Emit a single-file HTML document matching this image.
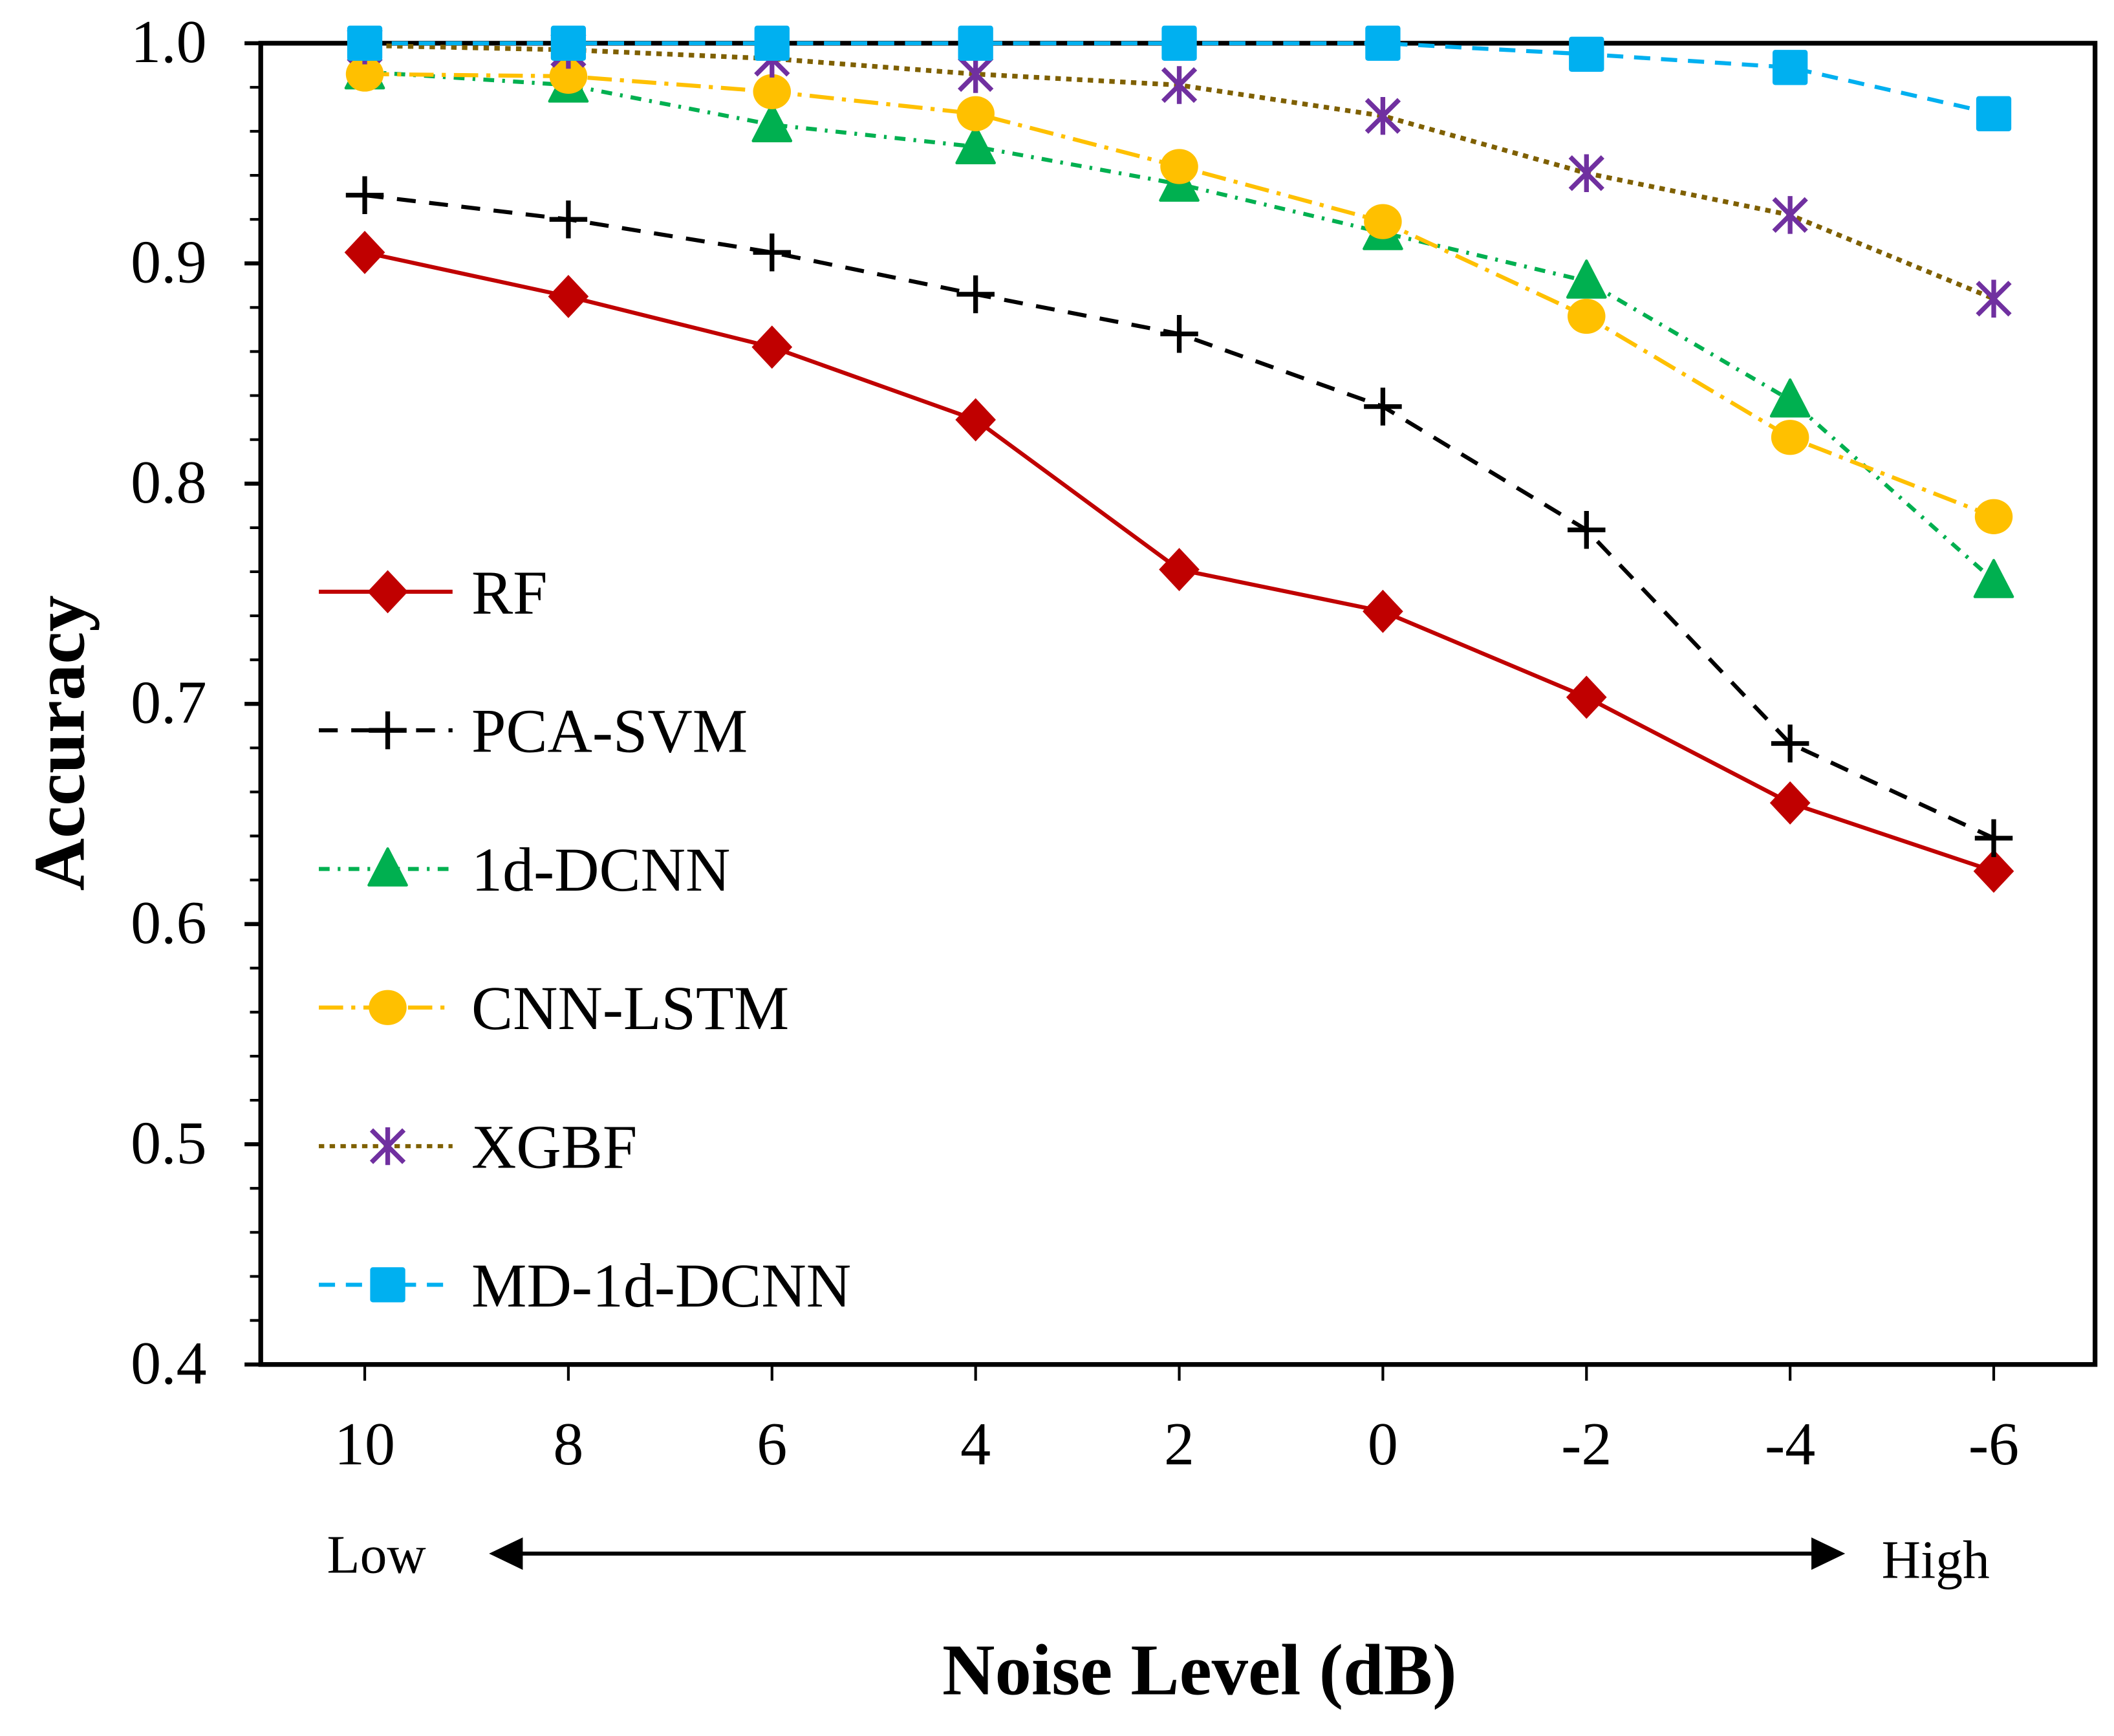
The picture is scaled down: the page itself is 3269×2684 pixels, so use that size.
<!DOCTYPE html>
<html><head><meta charset="utf-8"><style>html,body{margin:0;padding:0;background:#fff}svg{display:block}text{font-family:"Liberation Serif",serif}</style></head>
<body>
<svg id="chart" width="3269" height="2684" viewBox="0 0 1565 1285" xmlns="http://www.w3.org/2000/svg">
<rect x="0" y="0" width="1565" height="1285" fill="#fff"/>
<g id="plot"></g>
</svg>
<script>
const categories = ["10","8","6","4","2","0","-2","-4","-6"];
const yTicks = [0.4,0.5,0.6,0.7,0.8,0.9,1.0];
const yTickLabels = ["0.4","0.5","0.6","0.7","0.8","0.9","1.0"];
const seriesNames = ["RF","PCA-SVM","1d-DCNN","CNN-LSTM","XGBF","MD-1d-DCNN"];
const rfValues = [0.905,0.885,0.862,0.829,0.761,0.742,0.703,0.655,0.624];
const pcaSvmValues = [0.931,0.920,0.905,0.886,0.868,0.835,0.779,0.682,0.639];
const dcnnValues = [0.987,0.981,0.963,0.953,0.936,0.914,0.892,0.838,0.756];
const cnnLstmValues = [0.986,0.985,0.978,0.968,0.944,0.919,0.876,0.821,0.785];
const xgbfValues = [0.999,0.997,0.993,0.986,0.981,0.967,0.941,0.922,0.884];
const mdDcnnValues = [1.0,1.0,1.0,1.0,1.0,1.0,0.995,0.989,0.968];

const NS="http://www.w3.org/2000/svg";
const g=document.getElementById('plot');
const L=193,R=1551,T=32,B=1010;
const yMin=0.4,yMax=1.0;
function yScale(v){return B-(v-yMin)/(yMax-yMin)*(B-T);}
function xScale(i){return 270+i*(1476-270)/(categories.length-1);}
function el(tag,attrs,parent){const e=document.createElementNS(NS,tag);for(const k in attrs)e.setAttribute(k,attrs[k]);(parent||g).appendChild(e);return e;}

const styles=[
 {color:"#C00000",dash:"",marker:"diamond",mc:"#C00000",name:"rf"},
 {color:"#000000",dash:"14 10",marker:"plus",mc:"#000000",name:"pca-svm"},
 {color:"#00B050",dash:"8 6 2 6",marker:"triangle",mc:"#00B050",name:"1d-dcnn"},
 {color:"#FFC000",dash:"18 6 3 6",marker:"circle",mc:"#FFC000",name:"cnn-lstm"},
 {color:"#7F6000",dash:"4 4",marker:"star",mc:"#7030A0",name:"xgbf"},
 {color:"#00B0F0",dash:"12 8",marker:"square",mc:"#00B0F0",name:"md-1d-dcnn"}
];
const allValues=[rfValues,pcaSvmValues,dcnnValues,cnnLstmValues,xgbfValues,mdDcnnValues];

function marker(type,x,y,c,parent){
  let m;
  if(type==="diamond") m=el('polygon',{points:`${x},${y-16} ${x+15},${y} ${x},${y+16} ${x-15},${y}`,fill:c},parent);
  else if(type==="plus"){m=el('path',{d:`M${x-14},${y}H${x+14}M${x},${y-14}V${y+14}`,stroke:c,'stroke-width':3.5,fill:'none'},parent);}
  else if(type==="triangle") m=el('polygon',{points:`${x},${y-15} ${x+14},${y+12} ${x-14},${y+12}`,fill:c,'stroke':c,'stroke-width':2,'stroke-linejoin':'round'},parent);
  else if(type==="circle") m=el('ellipse',{cx:x,cy:y,rx:14,ry:13,fill:c},parent);
  else if(type==="star") m=el('path',{d:`M${x-12},${y-12}L${x+12},${y+12}M${x+12},${y-12}L${x-12},${y+12}M${x},${y-14}V${y+14}`,stroke:c,'stroke-width':3.5,fill:'none'},parent);
  else m=el('rect',{x:x-13,y:y-13,width:26,height:26,rx:2,fill:c},parent);
  return m;
}

const frame=el('rect',{x:L,y:T,width:R-L,height:B-T,fill:'none',stroke:'#000','stroke-width':3.5});


yTicks.forEach((v,i)=>{
  const y=yScale(v);
  const t=el('line',{x1:L-12,x2:L,y1:y,y2:y,stroke:'#000','stroke-width':3});
  
  
  const tx=el('text',{x:153,y:y+14,'text-anchor':'end','font-size':45});
  tx.textContent=yTickLabels[i];
  
  
});
for(let v=0.42;v<1.0;v+=0.02){
  if(Math.abs((v*10)-Math.round(v*10))<0.01) continue;
  const y=yScale(v);
  const t=el('line',{x1:L-8,x2:L,y1:y,y2:y,stroke:'#000','stroke-width':2});
  
  
}
categories.forEach((c,i)=>{
  const x=xScale(i);
  const t=el('line',{x1:x,x2:x,y1:B,y2:B+12,stroke:'#000','stroke-width':2});
  
  
  const tx=el('text',{x:x,y:1084,'text-anchor':'middle','font-size':45});
  tx.textContent=c;
  
  
});
allValues.forEach((vals,s)=>{
  const st=styles[s];
  const grp=el('g',{});
  
  
  const pts=vals.map((v,i)=>xScale(i)+','+yScale(v)).join(' ');
  const attrs={points:pts,fill:'none',stroke:st.color,'stroke-width':st.marker==="star"?3.5:3,'stroke-linecap':'butt'};
  if(st.dash) attrs['stroke-dasharray']=st.dash;
  const pl=el('polyline',attrs,grp);
  
  
  vals.forEach((v,i)=>{
    const m=marker(st.marker,xScale(i),yScale(v),st.mc,grp);
    
    
  });
});
const lg=el('g',{});


seriesNames.forEach((n,s)=>{
  const st=styles[s];
  const y=438+s*102.6;
  const eg=el('g',{},lg);
  
  
  const a={x1:236,x2:335,y1:y,y2:y,stroke:st.color,'stroke-width':3};
  if(st.dash) a['stroke-dasharray']=st.dash;
  el('line',a,eg);
  marker(st.marker,287,y,st.mc,eg);
  const tx=el('text',{x:349,y:y+16,'font-size':46},eg);
  tx.textContent=n;
});
const low=el('text',{x:242,y:1164,'font-size':40});
low.textContent="Low";


const high=el('text',{x:1393,y:1168,'font-size':40});
high.textContent="High";


const arr=el('g',{});


el('line',{x1:380,x2:1345,y1:1150,y2:1150,stroke:'#000','stroke-width':3},arr);
el('polygon',{points:'362,1150 387,1138 387,1162'},arr);
el('polygon',{points:'1366,1150 1341,1138 1341,1162'},arr);
const xt=el('text',{x:888,y:1254,'text-anchor':'middle','font-size':54,'font-weight':'bold'});
xt.textContent="Noise Level (dB)";


const yt=el('text',{x:0,y:0,'text-anchor':'middle','font-size':54,'font-weight':'bold',transform:'translate(62,550) rotate(-90)'});
yt.textContent="Accuracy";


</script>
</body></html>
